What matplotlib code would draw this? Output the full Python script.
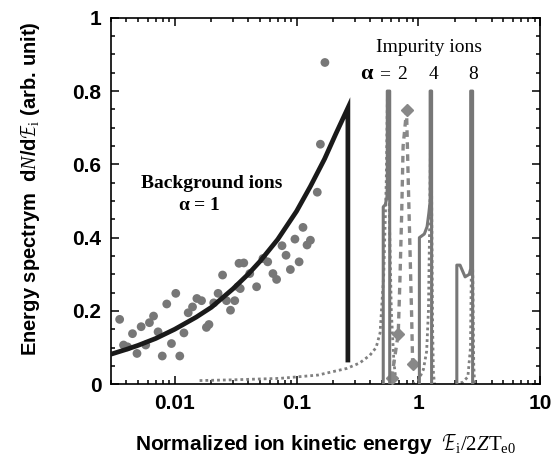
import matplotlib
matplotlib.use("Agg")
import matplotlib.pyplot as plt
from matplotlib.ticker import FixedLocator, LogLocator, MultipleLocator, NullFormatter

plt.rcParams['font.family'] = ['Liberation Sans', 'DejaVu Sans']
plt.rcParams['mathtext.fontset'] = 'custom'
plt.rcParams['mathtext.rm'] = 'Liberation Serif'
plt.rcParams['mathtext.it'] = 'Liberation Serif:italic'
plt.rcParams['mathtext.bf'] = 'Liberation Serif:bold'

# background ions (alpha = 1): simulation dots
bg_dot_x = [0.00353, 0.0038, 0.0041, 0.0045, 0.0049, 0.0053, 0.00578, 0.0062, 0.0067, 0.0073,
            0.0079, 0.0086, 0.0094, 0.0102, 0.011, 0.0119, 0.0129, 0.014, 0.0152, 0.0166,
            0.0182, 0.0191, 0.0209, 0.0227, 0.0247, 0.0266, 0.0287, 0.0311, 0.0337, 0.0345,
            0.033, 0.0369, 0.0413, 0.047, 0.053, 0.058, 0.064, 0.0686, 0.076, 0.082,
            0.089, 0.097, 0.105, 0.113, 0.122, 0.130, 0.148, 0.157, 0.171]
bg_dot_y = [0.177, 0.107, 0.102, 0.138, 0.084, 0.157, 0.107, 0.168, 0.186, 0.143,
            0.077, 0.219, 0.111, 0.248, 0.077, 0.140, 0.195, 0.211, 0.234, 0.228,
            0.155, 0.163, 0.222, 0.248, 0.298, 0.228, 0.202, 0.228, 0.330, 0.261,
            0.266, 0.331, 0.302, 0.266, 0.343, 0.334, 0.302, 0.286, 0.378, 0.352,
            0.313, 0.396, 0.334, 0.428, 0.380, 0.393, 0.524, 0.655, 0.878]

# background ions: model curve
bg_line_x = [0.003, 0.004, 0.005, 0.007, 0.01, 0.015, 0.02, 0.03, 0.04, 0.05,
             0.07, 0.1, 0.13, 0.17, 0.21, 0.264, 0.264]
bg_line_y = [0.082, 0.095, 0.106, 0.125, 0.15, 0.183, 0.21, 0.26, 0.30, 0.335,
             0.395, 0.472, 0.54, 0.615, 0.683, 0.754, 0.066]

# impurity ions, solid (simulation)
imp2_x = [0.515, 0.515, 0.535, 0.552, 0.556, 0.556, 0.582, 0.582]
imp2_y = [0.0, 0.484, 0.49, 0.51, 0.54, 0.80, 0.80, 0.0]
imp4_x = [1.02, 1.02, 1.12, 1.18, 1.22, 1.25, 1.25, 1.285, 1.285]
imp4_y = [0.0, 0.40, 0.41, 0.43, 0.467, 0.50, 0.80, 0.80, 0.0]
imp8_x = [2.07, 2.07, 2.2, 2.42, 2.62, 2.69, 2.69, 2.79, 2.79]
imp8_y = [0.0, 0.325, 0.325, 0.293, 0.30, 0.315, 0.80, 0.80, 0.0]

# impurity ions, fine dotted (model)
dot2_x = [0.016, 0.03, 0.073, 0.15, 0.258, 0.33, 0.40, 0.45, 0.485, 0.52, 0.545, 0.558, 0.575, 0.60, 0.63, 0.66]
dot2_y = [0.010, 0.012, 0.016, 0.025, 0.043, 0.058, 0.079, 0.10, 0.14, 0.30, 0.55, 0.80, 0.50, 0.20, 0.06, 0.0]
dot4_x = [0.90, 1.0, 1.1, 1.17, 1.21, 1.24, 1.27, 1.29, 1.31, 1.33, 1.36]
dot4_y = [0.0, 0.01, 0.04, 0.09, 0.20, 0.45, 0.80, 0.45, 0.15, 0.03, 0.0]
dot8_x = [2.0, 2.3, 2.55, 2.68, 2.74, 2.80, 2.85, 2.9]
dot8_y = [0.0, 0.005, 0.02, 0.10, 0.40, 0.30, 0.05, 0.0]

# impurity ions, dashed with diamonds
dash_x = [0.604, 0.684, 0.706, 0.73, 0.75, 0.80, 0.826, 0.853, 0.88, 0.898]
dash_y = [0.017, 0.138, 0.284, 0.467, 0.65, 0.747, 0.557, 0.375, 0.193, 0.055]
dash_marks = [0, 1, 5, 9]

grey = '#777777'

fig = plt.figure(figsize=(5.58, 4.68), dpi=100)
ax = fig.add_axes([0.199, 0.179, 0.769, 0.783])

ax.scatter(bg_dot_x, bg_dot_y, s=40, color=grey, edgecolors='none', zorder=2)
ax.plot(bg_line_x, bg_line_y, color='#1a1a1a', lw=3.4, solid_joinstyle='miter', zorder=3)

ax.plot(dot2_x, dot2_y, color='#808080', lw=2.0, ls=(0, (1, 1.1)), zorder=2)
ax.plot(dot4_x, dot4_y, color='#808080', lw=2.0, ls=(0, (1, 1.1)), zorder=2)
ax.plot(dot8_x, dot8_y, color='#808080', lw=2.0, ls=(0, (1, 1.1)), zorder=2)

ax.plot(dash_x, dash_y, color='#888888', lw=2.4, ls=(0, (2, 1.6)),
        marker='D', markersize=6, markevery=dash_marks, zorder=3)

for xs, ys in [(imp2_x, imp2_y), (imp4_x, imp4_y), (imp8_x, imp8_y)]:
    ax.plot(xs, ys, color=grey, lw=2.2, zorder=4)

ax.set_xscale('log')
ax.set_xlim(0.003, 10)
ax.set_ylim(0, 1)

ax.xaxis.set_major_locator(FixedLocator([0.01, 0.1, 1, 10]))
ax.xaxis.set_minor_locator(LogLocator(base=10, subs=range(2, 10)))
ax.xaxis.set_minor_formatter(NullFormatter())
ax.set_xticklabels(['0.01', '0.1', '1', '10'])
ax.yaxis.set_major_locator(FixedLocator([0, 0.2, 0.4, 0.6, 0.8, 1]))
ax.yaxis.set_minor_locator(MultipleLocator(0.05))
ax.set_yticklabels(['0', '0.2', '0.4', '0.6', '0.8', '1'])

ax.tick_params(which='both', direction='in', top=True, right=True, width=1.1)
ax.tick_params(which='major', length=5.5, labelsize=15, pad=7)
ax.tick_params(which='minor', length=3)
for lab in ax.get_xticklabels() + ax.get_yticklabels():
    lab.set_fontweight('bold')
for sp in ax.spines.values():
    sp.set_linewidth(1.2)

ax.set_xlabel(r'Normalized ion kinetic energy  $\mathcal{E}_{\rm i}/2Z{\rm T}_{\rm e0}$',
              fontsize=15, fontweight='bold', labelpad=14)
ax.set_ylabel(r'Energy spectrym  d$N$/d$\mathcal{E}_{\rm i}$ (arb. unit)',
              fontsize=14.5, fontweight='bold')
ax.yaxis.set_label_coords(-0.16, 0.535)

ax.text(0.020, 0.549, 'Background ions', family='Liberation Serif', fontweight='bold',
        fontsize=14, ha='center', va='center')
ax.text(0.016, 0.489, r'$\mathbf{\alpha}$ = 1', family='Liberation Serif', fontweight='bold',
        fontsize=14, ha='center', va='center')

ax.text(1.22, 0.92, 'Impurity ions', family='Liberation Serif', fontsize=14,
        ha='center', va='center')
ax.text(0.378, 0.844, r'$\mathbf{\alpha}$', family='Liberation Serif', fontsize=16,
        ha='center', va='center')
ax.text(0.53, 0.844, '=', family='Liberation Serif', fontsize=14, ha='center', va='center')
ax.text(0.733, 0.844, '2', family='Liberation Serif', fontsize=14, ha='center', va='center')
ax.text(1.34, 0.844, '4', family='Liberation Serif', fontsize=14, ha='center', va='center')
ax.text(2.81, 0.844, '8', family='Liberation Serif', fontsize=14, ha='center', va='center')

fig.savefig('out.png', dpi=100)
